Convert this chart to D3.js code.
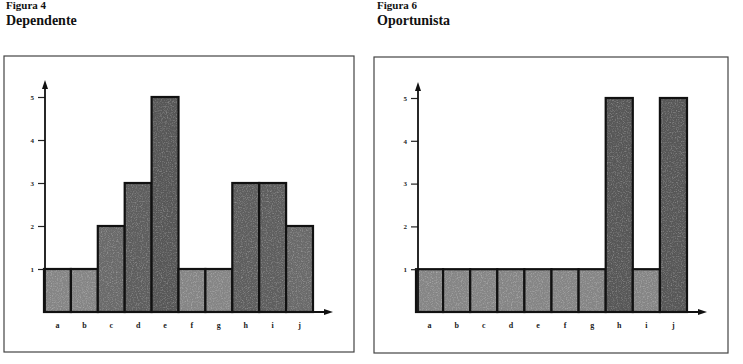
<!DOCTYPE html>
<html><head><meta charset="utf-8">
<script src="https://cdn.jsdelivr.net/npm/d3@7"></script>
<style>body{margin:0;background:#fff}svg{display:block}</style>
</head><body>
<script>
const categories = ['a','b','c','d','e','f','g','h','i','j'];
const dependente = [1,1,2,3,5,1,1,3,3,2];
const oportunista = [1,1,1,1,1,1,1,5,1,5];
const yTicks = [1,2,3,4,5];
const figureLabels = ['Figura 4','Figura 6'];
const titles = ['Dependente','Oportunista'];

const W = 743, H = 364;
const svg = d3.select('body').append('svg').attr('width', W).attr('height', H);

const defs = svg.append('defs');
const f = defs.append('filter').attr('id','grain').attr('x',0).attr('y',0).attr('width','100%').attr('height','100%');
f.append('feTurbulence').attr('type','fractalNoise').attr('baseFrequency',0.8).attr('numOctaves',2).attr('seed',5).attr('result','n');
f.append('feColorMatrix').attr('in','n').attr('type','matrix')
 .attr('values','0 0 0 0 1  0 0 0 0 1  0 0 0 0 1  1.6 0 0 0 -0.75').attr('result','w');
f.append('feComposite').attr('in','w').attr('in2','SourceGraphic').attr('operator','in');

const shade = d3.scaleLinear().domain([1,2,3,5]).range(['#858585','#6a6a6a','#5e5e5e','#575757']);

const panels = [
  {values: dependente, box:[4,56,354,352], x0:44, x1:313, yTop:97, base:312, axisX:45, arrowY:80, arrowX:333, titleX:6},
  {values: oportunista, box:[374,57,728,353], x0:416, x1:687, yTop:98, base:312, axisX:418, arrowY:82, arrowX:707, titleX:377}
];

panels.forEach((p, i) => {
  const g = svg.append('g');
  g.append('text').attr('x', p.titleX).attr('y', 9).text(figureLabels[i])
    .attr('font-family','Liberation Serif').attr('font-weight','bold').attr('font-size',11).attr('fill','#111');
  g.append('text').attr('x', p.titleX).attr('y', 25).text(titles[i])
    .attr('font-family','Liberation Serif').attr('font-weight','bold').attr('font-size',14).attr('fill','#111');

  g.append('rect').attr('x', p.box[0]).attr('y', p.box[1])
    .attr('width', p.box[2]-p.box[0]).attr('height', p.box[3]-p.box[1])
    .attr('fill','none').attr('stroke','#444').attr('stroke-width',1.2);

  const x = d3.scaleBand().domain(categories).range([p.x0, p.x1]).padding(0);
  const y = d3.scaleLinear().domain([0,5]).range([p.base, p.yTop]);

  const bars = g.selectAll('g.bar').data(p.values).join('g').attr('class','bar');
  bars.append('rect')
    .attr('x', (d,k) => x(categories[k]))
    .attr('y', d => y(d))
    .attr('width', x.bandwidth())
    .attr('height', d => y(0) - y(d))
    .attr('fill', d => shade(d));
  bars.append('rect')
    .attr('x', (d,k) => x(categories[k]))
    .attr('y', d => y(d))
    .attr('width', x.bandwidth())
    .attr('height', d => y(0) - y(d))
    .attr('fill', '#000')
    .attr('opacity', 0.45)
    .attr('filter','url(#grain)');
  bars.append('rect')
    .attr('x', (d,k) => x(categories[k]))
    .attr('y', d => y(d))
    .attr('width', x.bandwidth())
    .attr('height', d => y(0) - y(d))
    .attr('fill', 'none')
    .attr('stroke','#111').attr('stroke-width',2.2);

  // y axis
  const yAxis = d3.axisLeft(y).tickValues(yTicks).tickSize(7).tickPadding(4).tickFormat(d3.format('d'));
  const ya = g.append('g').attr('transform', `translate(${p.axisX},0)`).call(yAxis);
  ya.select('.domain').remove();
  ya.selectAll('line').attr('stroke','#222').attr('stroke-width',1.2);
  ya.selectAll('text').attr('font-family','Liberation Serif').attr('font-weight','bold').attr('font-size',7).attr('fill','#222');
  g.append('line').attr('x1', p.axisX).attr('x2', p.axisX).attr('y1', y(0)).attr('y2', p.arrowY+4)
    .attr('stroke','#111').attr('stroke-width',1.8);
  g.append('path').attr('d', `M${p.axisX},${p.arrowY} L${p.axisX-3},${p.arrowY+9} L${p.axisX+3},${p.arrowY+9} Z`).attr('fill','#111');

  // x axis
  const xAxis = d3.axisBottom(x).tickSize(0).tickPadding(10);
  const xa = g.append('g').attr('transform', `translate(0,${p.base})`).call(xAxis);
  xa.select('.domain').remove();
  xa.selectAll('text').attr('font-family','Liberation Serif').attr('font-weight','bold').attr('font-size',8).attr('fill','#222');
  g.append('line').attr('x1', p.x0).attr('x2', p.arrowX-4).attr('y1', p.base).attr('y2', p.base)
    .attr('stroke','#111').attr('stroke-width',1.8);
  g.append('path').attr('d', `M${p.arrowX},${p.base} L${p.arrowX-9},${p.base-3} L${p.arrowX-9},${p.base+3} Z`).attr('fill','#111');
});
</script>
</body></html>
